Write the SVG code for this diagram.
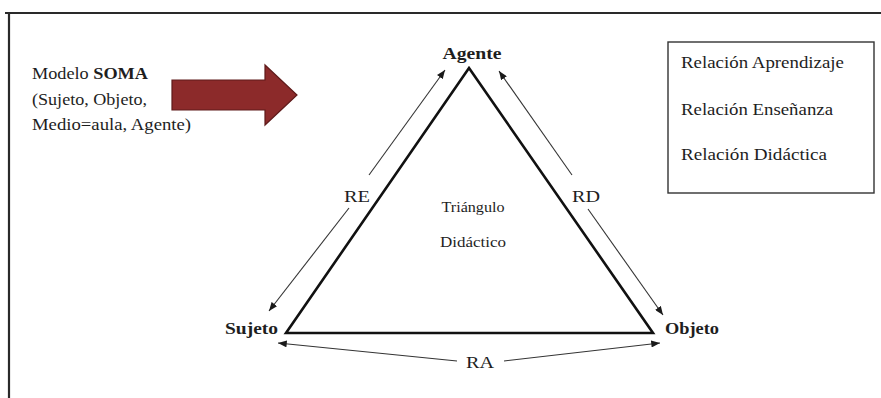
<svg xmlns="http://www.w3.org/2000/svg" width="881" height="398" viewBox="0 0 881 398">
<defs>
<marker id="ah" viewBox="0 0 10 8" refX="10" refY="4" markerWidth="9" markerHeight="7" markerUnits="userSpaceOnUse" orient="auto">
<path d="M0,0 L10,4 L0,8 z" fill="#1a1a1a"/>
</marker>
<style>
.t{font-family:"Liberation Serif","Times New Roman",serif;fill:#1e1e1e}
.b{font-weight:bold}
.rel{stroke:#333;stroke-width:1.1;fill:none}
</style>
</defs>
<rect x="0" y="0" width="881" height="398" fill="#fff"/>
<g id="frame">
<line x1="5" y1="13" x2="881" y2="13" stroke="#2a2a2a" stroke-width="2.2"/>
<line x1="9" y1="12" x2="9" y2="398" stroke="#2a2a2a" stroke-width="2.2"/>
</g>
<g id="soma">
<text class="t" font-size="16" x="32" y="79" textLength="116" lengthAdjust="spacingAndGlyphs">Modelo <tspan class="b">SOMA</tspan></text>
<text class="t" font-size="16" x="32" y="105" textLength="115" lengthAdjust="spacingAndGlyphs">(Sujeto, Objeto,</text>
<text class="t" font-size="16" x="32" y="130" textLength="159" lengthAdjust="spacingAndGlyphs">Medio=aula, Agente)</text>
</g>
<g id="bigarrow">
<path d="M172,80 L265,80 L265,65 L297,95 L265,125 L265,110 L172,110 z" fill="#8c2a2a" stroke="#5e1a1a" stroke-width="1.2"/>
</g>
<g id="triangle">
<path d="M469,68 L653,333 L286,333 z" fill="none" stroke="#111" stroke-width="2.6" stroke-linejoin="miter"/>
<text class="t" font-size="14" x="473" y="212" text-anchor="middle" textLength="63" lengthAdjust="spacingAndGlyphs">Triángulo</text>
<text class="t" font-size="14" x="473" y="247" text-anchor="middle" textLength="66" lengthAdjust="spacingAndGlyphs">Didáctico</text>
</g>
<g id="agente"><text class="t b" font-size="16.5" x="472" y="59" text-anchor="middle" textLength="59" lengthAdjust="spacingAndGlyphs">Agente</text></g>
<g id="sujeto"><text class="t b" font-size="16.5" x="278" y="334" text-anchor="end" textLength="53" lengthAdjust="spacingAndGlyphs">Sujeto</text></g>
<g id="objeto"><text class="t b" font-size="16.5" x="665" y="334" textLength="54" lengthAdjust="spacingAndGlyphs">Objeto</text></g>
<g id="legend">
<rect x="668" y="42" width="206" height="151" fill="#fff" stroke="#333" stroke-width="1.4"/>
<text class="t" font-size="16.5" x="681" y="68" textLength="163" lengthAdjust="spacingAndGlyphs">Relación Aprendizaje</text>
<text class="t" font-size="16.5" x="681" y="115" textLength="152" lengthAdjust="spacingAndGlyphs">Relación Enseñanza</text>
<text class="t" font-size="16.5" x="681" y="160" textLength="146" lengthAdjust="spacingAndGlyphs">Relación Didáctica</text>
</g>
<g id="connectors">
<line class="rel" x1="369" y1="175" x2="445" y2="70" marker-end="url(#ah)"/>
<line class="rel" x1="349" y1="208" x2="269" y2="311" marker-end="url(#ah)"/>
<line class="rel" x1="572" y1="175" x2="499" y2="71" marker-end="url(#ah)"/>
<line class="rel" x1="588" y1="209" x2="663" y2="315" marker-end="url(#ah)"/>
<line class="rel" x1="457" y1="361" x2="278" y2="343" marker-end="url(#ah)"/>
<line class="rel" x1="504" y1="361" x2="660" y2="343" marker-end="url(#ah)"/>
<text class="t" font-size="17" x="357" y="202" text-anchor="middle" textLength="26" lengthAdjust="spacingAndGlyphs">RE</text>
<text class="t" font-size="17" x="586" y="202" text-anchor="middle" textLength="28" lengthAdjust="spacingAndGlyphs">RD</text>
<text class="t" font-size="17" x="480" y="368" text-anchor="middle" textLength="28" lengthAdjust="spacingAndGlyphs">RA</text>
</g>
</svg>
